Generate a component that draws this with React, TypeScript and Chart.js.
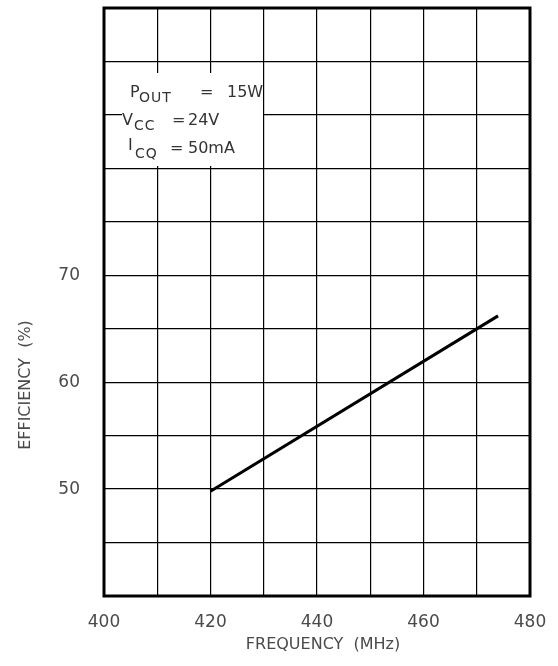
import React, { useEffect, useRef } from "react";
import { Chart, registerables } from "chart.js";

Chart.register(...registerables);

const freqMHz = [420, 474];
const efficiencyPct = [49.8, 66.2];
const xLabeled = [400, 420, 440, 460, 480];
const yLabeled = [50, 60, 70];
const conditionRows = [
  { main: "P", sub: "OUT", eq: "=", value: "15W" },
  { main: "V", sub: "CC", eq: "=", value: "24V" },
  { main: "I", sub: "CQ", eq: "=", value: "50mA" },
];

const FONT = "'DejaVu Sans', sans-serif";
const TXT = "#4a4a4a";

const overlay = {
  id: "overlay",
  beforeDatasetsDraw(chart: any) {
    const { ctx, chartArea } = chart;
    const L = chartArea.left;
    const T = chartArea.top;
    ctx.save();
    ctx.fillStyle = "#fff";
    ctx.fillRect(L + 18, T + 65, 141, 93);
    const rowsX = [
      { m: 26, s: 35, e: 96, v: 123 },
      { m: 18, s: 30, e: 68, v: 84 },
      { m: 24, s: 31, e: 66, v: 84 },
    ];
    const baselines = [89, 117, 145];
    ctx.fillStyle = "#333";
    ctx.textBaseline = "alphabetic";
    ctx.textAlign = "left";
    conditionRows.forEach((r, i) => {
      const p = rowsX[i];
      const b = T + baselines[i];
      ctx.font = `16px ${FONT}`;
      ctx.fillText(r.main, L + p.m, i === 2 ? b - 3 : b);
      ctx.font = `14px ${FONT}`;
      (ctx as any).letterSpacing = "1px";
      ctx.fillText(r.sub, L + p.s, b + 5);
      (ctx as any).letterSpacing = "0px";
      ctx.font = `16px ${FONT}`;
      ctx.fillText(r.eq, L + p.e, b);
      ctx.fillText(r.value, L + p.v, b);
    });
    ctx.restore();
  },
  afterDatasetsDraw(chart: any) {
    const { ctx, chartArea } = chart;
    ctx.save();
    ctx.strokeStyle = "#000";
    ctx.lineWidth = 3;
    ctx.strokeRect(
      chartArea.left,
      chartArea.top,
      chartArea.right - chartArea.left,
      chartArea.bottom - chartArea.top
    );
    ctx.fillStyle = TXT;
    ctx.font = `16px ${FONT}`;
    ctx.textAlign = "center";
    ctx.textBaseline = "middle";
    ctx.fillText("FREQUENCY  (MHz)", (chartArea.left + chartArea.right) / 2 + 6, 645);
    ctx.translate(26, 385);
    ctx.rotate(-Math.PI / 2);
    ctx.fillText("EFFICIENCY  (%)", 0, 0);
    ctx.restore();
  },
};

export default function App() {
  const ref = useRef<HTMLCanvasElement>(null);
  useEffect(() => {
    if (!ref.current) return;
    const chart = new Chart(ref.current, {
      type: "line",
      data: {
        datasets: [
          {
            data: freqMHz.map((x, i) => ({ x, y: efficiencyPct[i] })),
            borderColor: "#000",
            borderWidth: 3,
            pointRadius: 0,
            fill: false,
          },
        ],
      },
      options: {
        animation: false,
        responsive: false,
        layout: { padding: { top: 8, right: 28, left: 0, bottom: 0 } },
        plugins: { legend: { display: false }, tooltip: { enabled: false } },
        scales: {
          x: {
            type: "linear",
            min: 400,
            max: 480,
            ticks: {
              stepSize: 10,
              autoSkip: false,
              maxRotation: 0,
              padding: 16,
              color: TXT,
              font: { family: FONT, size: 17 },
              callback: (v: any) => (xLabeled.includes(Number(v)) ? String(v) : ""),
            },
            grid: { color: "#000", lineWidth: 1.2, drawTicks: false },
            border: { display: false },
            afterFit: (s: any) => {
              s.height = 70;
              s.paddingLeft = 0;
              s.paddingRight = 0;
            },
          },
          y: {
            type: "linear",
            min: 40,
            max: 95,
            ticks: {
              stepSize: 5,
              autoSkip: false,
              padding: 24,
              color: TXT,
              font: { family: FONT, size: 17 },
              callback: (v: any) => (yLabeled.includes(Number(v)) ? String(v) : ""),
            },
            grid: { color: "#000", lineWidth: 1.2, drawTicks: false },
            border: { display: false },
            afterFit: (s: any) => {
              s.width = 104;
              s.paddingTop = 0;
              s.paddingBottom = 0;
            },
          },
        },
      },
      plugins: [overlay],
    });
    return () => chart.destroy();
  }, []);
  return (
    <div style={{ position: "fixed", left: 0, top: 0, width: 558, height: 666, background: "#fff" }}>
      <canvas ref={ref} width={558} height={666} style={{ width: 558, height: 666 }} />
    </div>
  );
}
